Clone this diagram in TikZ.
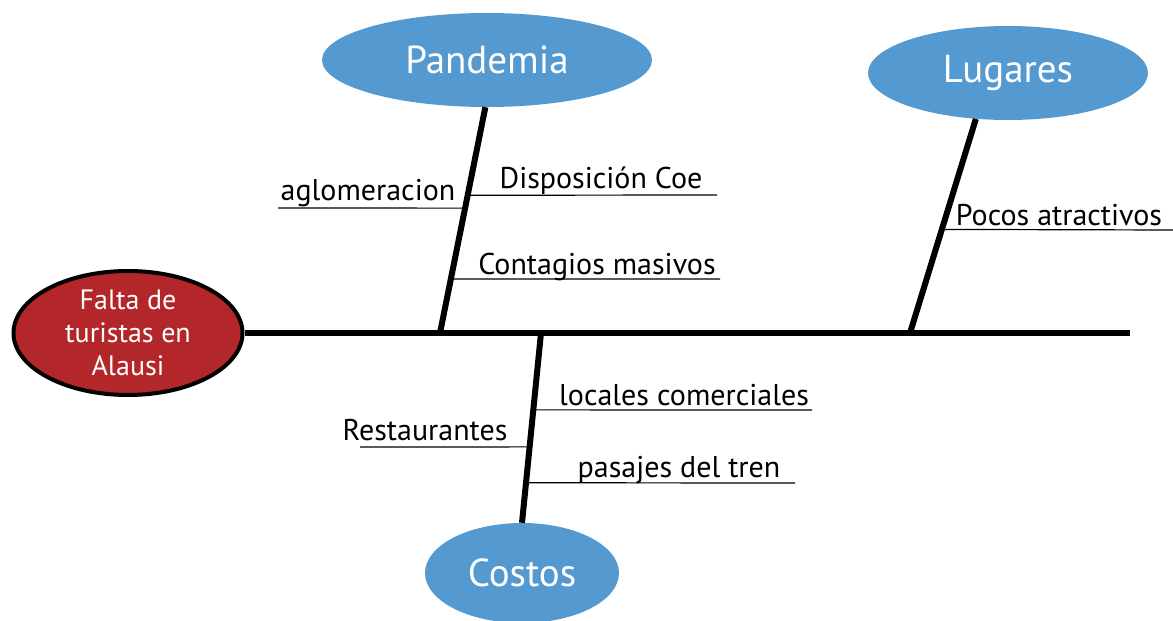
\documentclass[tikz,border=0pt]{standalone}
\usepackage{fontspec}
\setmainfont{PT Sans}
\usepackage{xcolor}
\definecolor{cazul}{HTML}{5499D0}
\definecolor{crojo}{HTML}{B3262A}
\usetikzlibrary{shapes.geometric, calc}

\tikzset{
  causa/.style={ellipse, fill=cazul, text=white, inner sep=0pt, font=\fontsize{39}{44}\selectfont},
  efecto/.style={ellipse, fill=crojo, draw=black, line width=4pt, text=white, align=center,
    inner sep=0pt, minimum width=229, minimum height=124, font=\fontsize{28}{33}\selectfont},
  hueso/.style={line width=6pt},
  rama/.style={line width=1.2pt},
  etiqueta/.style={inner sep=0pt, anchor=base, font=\fontsize{30}{34}\selectfont}
}

\begin{document}
\begin{tikzpicture}[x=1pt, y=-1pt]
  \useasboundingbox (0,0) rectangle (1173,621);
  % Efecto y eje principal
  \node[efecto] (efecto) at (128,333) {Falta de\\turistas en\\Alausi};
  \coordinate (finEje) at (1130,333);
  \draw[hueso] (efecto.east) -- (finEje);
  % Causas
  \node[causa, minimum width=330, minimum height=94] (pandemia) at (487,60) {Pandemia};
  \node[causa, minimum width=280, minimum height=94] (lugares) at (1008,73) {Lugares};
  \node[causa, minimum width=194, minimum height=100] (costos) at (522,573) {Costos};
  \coordinate (pBase) at (440,333);
  \coordinate (lBase) at (910,333);
  \coordinate (cBase) at (541,333);
  \draw[hueso] (pandemia.-92) -- (pBase);
  \draw[hueso] (lugares.-125) -- (lBase);
  \draw[hueso] (costos.north) -- (cBase);
  % Ramas de Pandemia
  \coordinate (disp1) at ($(pandemia.-92)!0.39!(pBase)$);
  \coordinate (disp2) at (717,195);
  \coordinate (aglo1) at ($(pandemia.-92)!0.447!(pBase)$);
  \coordinate (aglo2) at (278,208);
  \coordinate (cont1) at ($(pandemia.-92)!0.761!(pBase)$);
  \coordinate (cont2) at (720,279);
  \draw[rama] (disp1) -- (disp2);
  \draw[rama] (aglo1) -- (aglo2);
  \draw[rama] (cont1) -- (cont2);
  \node[etiqueta] (disp) at (601,188) {Disposición Coe};
  \node[etiqueta] (aglo) at (368,200) {aglomeracion};
  \node[etiqueta] (cont) at (597,274) {Contagios masivos};
  % Ramas de Lugares
  \coordinate (poco1) at ($(lugares.-125)!0.516!(lBase)$);
  \coordinate (poco2) at (1173,230);
  \draw[rama] (poco1) -- (poco2);
  \node[etiqueta] (poco) at (1059,225) {Pocos atractivos};
  % Ramas de Costos
  \coordinate (loca1) at ($(cBase)!0.405!(costos.north)$);
  \coordinate (loca2) at (812,410);
  \coordinate (rest1) at ($(cBase)!0.6!(costos.north)$);
  \coordinate (rest2) at (360,447);
  \coordinate (pasa1) at ($(cBase)!0.789!(costos.north)$);
  \coordinate (pasa2) at (795,483);
  \draw[rama] (loca1) -- (loca2);
  \draw[rama] (rest1) -- (rest2);
  \draw[rama] (pasa1) -- (pasa2);
  \node[etiqueta] (loca) at (684,405) {locales comerciales};
  \node[etiqueta] (rest) at (425,440) {Restaurantes};
  \node[etiqueta] (pasa) at (679,477) {pasajes del tren};
\end{tikzpicture}
\end{document}
